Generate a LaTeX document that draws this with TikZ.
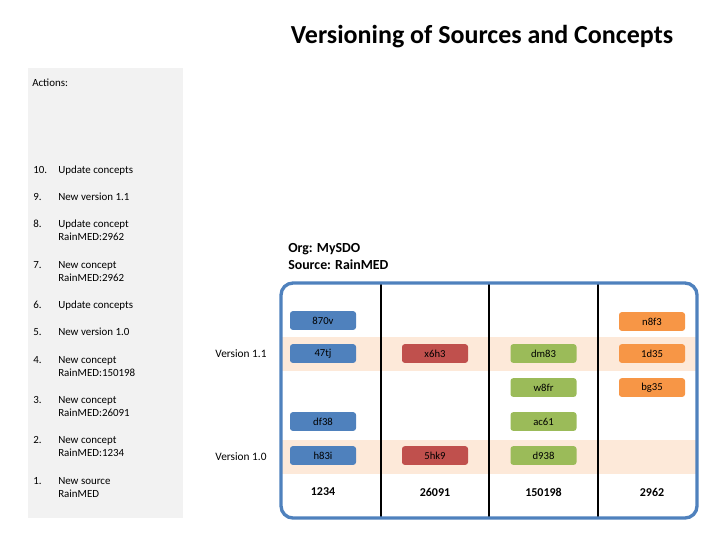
\documentclass[tikz,border=0pt]{standalone}
\usepackage{fontspec}
\setmainfont{Carlito}
\begin{document}
\begin{tikzpicture}[x=0.75pt,y=-0.75pt,
 cb/.style={rounded corners=2pt,minimum width=49.5pt,minimum height=14pt,inner sep=0pt,font=\fontsize{8}{9}\selectfont},
 act/.style={anchor=north west,align=left,font=\fontsize{8.2}{9.8}\selectfont,inner sep=0pt},
 num/.style={anchor=north west,font=\fontsize{8.2}{9.8}\selectfont,inner sep=0pt}]
\useasboundingbox (0,0) rectangle (720,540);
\definecolor{cblue}{HTML}{4F81BD}\definecolor{cred}{HTML}{C0504D}
\definecolor{cgreen}{HTML}{9BBB59}\definecolor{corange}{HTML}{F79646}
\definecolor{band}{HTML}{FDE9D9}\definecolor{panel}{HTML}{F2F2F2}
\node (title) at (482,37) {\bfseries\fontsize{19.5}{22}\selectfont Versioning of Sources and Concepts};
\fill[panel] (28,68) rectangle (183,518);
\node[num] (acth) at (32,79) {Actions:};
\foreach \n/\y/\t in {10./166/Update concepts,9./193/New version 1.1,8./220/{Update concept\\RainMED:2962},7./261/{New concept\\RainMED:2962},6./301/Update concepts,5./328/New version 1.0,4./356/{New concept\\RainMED:150198},3./396/{New concept\\RainMED:26091},2./436/{New concept\\RainMED:1234},1./477/{New source\\RainMED}}{
 \node[num] (n\n) at (33,\y) {\n};
 \node[act] (a\n) at (58,\y) {\t};
}
\node[anchor=north west,align=left,inner sep=0pt,font=\bfseries\fontsize{10.4}{12.5}\selectfont] (org) at (288,243) {Org: MySDO\\Source: RainMED};
\fill[band] (281,337) rectangle (697,371);
\fill[band] (281,440) rectangle (697,474);
\foreach \x in {381,489,598} \draw[line width=1.2pt] (\x,284) -- (\x,518);
\draw[cblue,line width=2.5pt,rounded corners=9pt] (281,283) rectangle (697,518);
\node[font=\fontsize{8.5}{10}\selectfont] (v11) at (241,354) {Version 1.1};
\node[font=\fontsize{8.5}{10}\selectfont] (v10) at (241,457) {Version 1.0};
\foreach \x/\y/\c/\t in {323/320.5/cblue/870v,323/353.5/cblue/47tj,323/421.5/cblue/df38,323/455.5/cblue/h83i,
 435/353.5/cred/x6h3,435/455.5/cred/5hk9,
 543.5/353.5/cgreen/dm83,543.5/387.5/cgreen/w8fr,543.5/421.5/cgreen/ac61,543.5/455.5/cgreen/d938,
 652/321.5/corange/n8f3,652/353.5/corange/1d35,652/387.5/corange/bg35}
 \node[cb,fill=\c] (b\t) at (\x,\y) {\t};
\foreach \x/\t in {323/1234,435/26091,543.5/150198,652/2962}
 \node[font=\bfseries\fontsize{9}{10}\selectfont] (c\t) at (\x,492) {\t};
\end{tikzpicture}
\end{document}
